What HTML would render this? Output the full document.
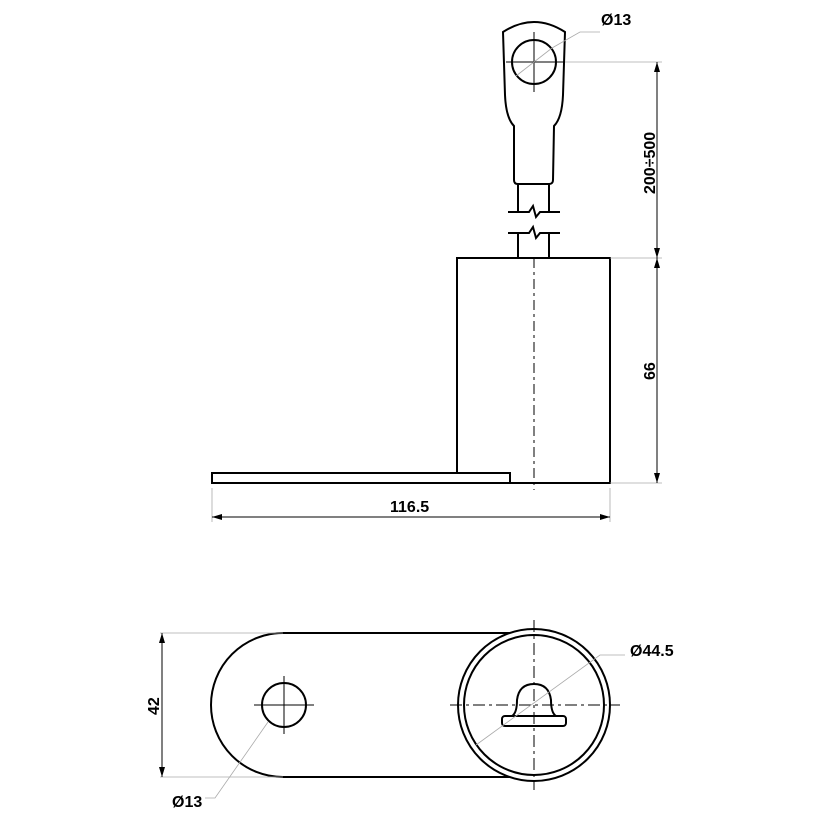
<!DOCTYPE html>
<html><head><meta charset="utf-8"><style>body{margin:0;background:#fff}svg{display:block}text{font-family:"Liberation Sans",sans-serif;font-weight:bold;font-size:16px;fill:#000}</style></head><body>
<svg width="820" height="820" viewBox="0 0 820 820" xmlns="http://www.w3.org/2000/svg">
<defs><marker id="a" viewBox="0 0 10 6" refX="10" refY="3" markerWidth="10" markerHeight="6" orient="auto-start-reverse" markerUnits="userSpaceOnUse"><path d="M0,0L10,3L0,6z" fill="#000"/></marker></defs>
<g fill="none" stroke="#000" stroke-width="2">
<path d="M503,32 Q534,12 565,32 L563,95 Q562,118 554,126 L553,180 Q553,184 549,184 L518,184 Q514,184 514,180 L514,126 Q506,118 505,95 Z"/>
<circle cx="534" cy="62" r="22"/>
<path d="M518,184V211M549,184V211M508,212H529L533,206L536,217L540,212H560"/>
<path d="M508,233H529L533,227L536,238L540,233H560M518,233V258M549,233V258"/>
<path d="M457,473V258H610V483H510"/>
<path d="M212,473H510V483H212Z"/>
<path d="M283,633H510M283,777H510M283,633A72,72 0 0 0 283,777"/>
<circle cx="284" cy="705" r="22"/>
<circle cx="534" cy="705" r="76" fill="#fff"/>
<circle cx="534" cy="705" r="70"/>
<path d="M512,716 Q517,713 517,700 Q519,684 534,684 Q549,684 551,700 Q551,713 556,716"/>
<rect x="502" y="716" width="64" height="10" rx="3"/>
</g>
<g stroke="#000" stroke-width="1" fill="none">
<path d="M534,32V92M506,62H565"/>
<path d="M534,258V490" stroke-dasharray="10,4,3,4"/>
<path d="M284,676V734M254,705H314"/>
<path d="M534,620V790M450,705H620" stroke-dasharray="12,4,3,4"/>
</g>
<g stroke="#aaa" stroke-width="0.8" fill="none">
<path d="M565,62H662M610,258H662M610,483H662M212,488V522M610,488V522"/>
<path d="M160,633H283M160,777H283"/>
<path d="M516,76L552,48L580,32H600"/>
<path d="M268,722L215,798H205"/>
<path d="M476,745L600,655H625"/>
</g>
<g stroke="#000" stroke-width="1" fill="none">
<path d="M657,62V258" marker-start="url(#a)" marker-end="url(#a)"/>
<path d="M657,258V483" marker-start="url(#a)" marker-end="url(#a)"/>
<path d="M212,517H610" marker-start="url(#a)" marker-end="url(#a)"/>
<path d="M162,633V777" marker-start="url(#a)" marker-end="url(#a)"/>
</g>
<text x="601" y="25">Ø13</text>
<text x="630" y="656">Ø44.5</text>
<text x="172" y="807">Ø13</text>
<text x="390" y="512">116.5</text>
<text transform="translate(655,194) rotate(-90)">200÷500</text>
<text transform="translate(655,380) rotate(-90)">66</text>
<text transform="translate(159,715) rotate(-90)">42</text>
</svg>
</body></html>
